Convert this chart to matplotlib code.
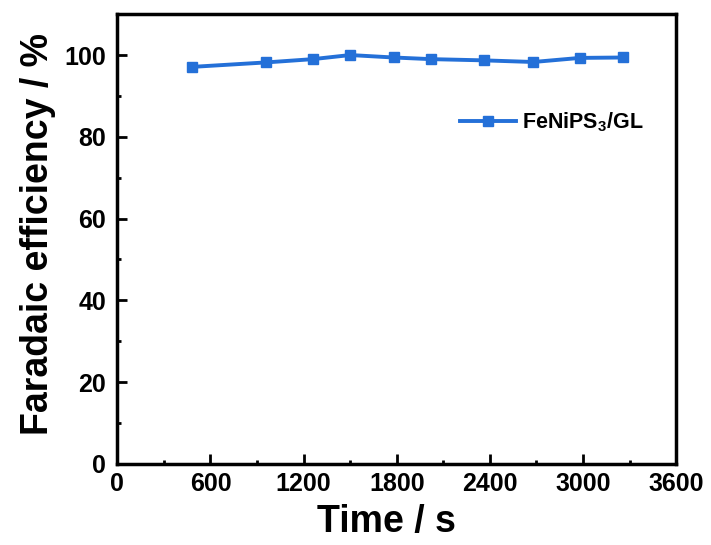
import matplotlib
matplotlib.use("Agg")
import matplotlib.pyplot as plt
from matplotlib.ticker import MultipleLocator

plt.rcParams['font.family'] = ['Liberation Sans', 'DejaVu Sans']
plt.rcParams['font.weight'] = 'bold'
plt.rcParams['mathtext.fontset'] = 'custom'
plt.rcParams['mathtext.bf'] = 'Liberation Sans:bold'

time_s = [480, 960, 1260, 1500, 1780, 2020, 2360, 2680, 2980, 3260]
fe = [97.1, 98.2, 99.0, 100.0, 99.4, 99.0, 98.7, 98.3, 99.3, 99.4]

fig = plt.figure(figsize=(7.11, 5.45), dpi=100)
ax = fig.add_axes([0.165, 0.149, 0.786, 0.825])

ax.plot(time_s, fe, color='#2470d8', lw=2.8, marker='s', ms=7,
        label='FeNiPS$_\\mathbf{3}$/GL')

ax.set_xlim(0, 3600)
ax.set_ylim(0, 110)
ax.xaxis.set_major_locator(MultipleLocator(600))
ax.xaxis.set_minor_locator(MultipleLocator(300))
ax.yaxis.set_major_locator(MultipleLocator(20))
ax.yaxis.set_minor_locator(MultipleLocator(10))
ax.tick_params(which='both', direction='in', top=False, right=False, labelsize=18)
ax.tick_params(axis='x', pad=6)
ax.tick_params(axis='y', pad=8)
ax.tick_params(which='major', length=7, width=2)
ax.tick_params(which='minor', length=3, width=2)
for lab in ax.get_xticklabels() + ax.get_yticklabels():
    lab.set_fontweight('bold')
for s in ax.spines.values():
    s.set_linewidth(2.5)

ax.set_xlabel('Time / s', fontsize=27, fontweight='bold', labelpad=6)
ax.xaxis.label.set_x(0.481)
ax.set_ylabel('Faradaic efficiency / %', fontsize=27, fontweight='bold', labelpad=6)
ax.yaxis.label.set_y(0.51)

ax.legend(loc='center left', bbox_to_anchor=(0.614, 0.76), frameon=False,
          borderpad=0, borderaxespad=0,
          prop={'size': 15.5, 'weight': 'bold'}, handlelength=2.6, handletextpad=0.25)

fig.savefig('out.png', dpi=100)
